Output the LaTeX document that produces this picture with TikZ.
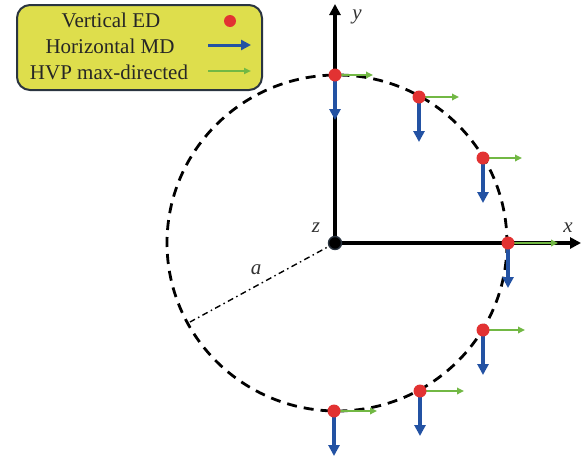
\documentclass[tikz,border=0pt]{standalone}
\usepackage{fontspec}
\setmainfont{Liberation Serif}
\usetikzlibrary{arrows.meta,calc}
\definecolor{edred}{HTML}{E23232}
\definecolor{mdblue}{HTML}{2352A3}
\definecolor{hvpgreen}{HTML}{72B844}
\definecolor{legfill}{HTML}{DEDE4C}
\definecolor{legdraw}{HTML}{2A3440}
\tikzset{
  dotnode/.style={circle,fill=edred,inner sep=0pt,minimum size=13pt},
  mdarrow/.style={mdblue,line width=3.4pt,-{Triangle[width=11pt,length=11pt]}},
  hvparrow/.style={hvpgreen,line width=1.7pt,-{Triangle[width=6.5pt,length=7pt]}},
  axisline/.style={black,line width=3.4pt},
  lbl/.style={font=\fontsize{21}{24}\selectfont\itshape,inner sep=0pt,text=black!80},
  legtext/.style={font=\fontsize{21}{24}\selectfont,inner sep=0pt,text=black!85}
}
\begin{document}
\begin{tikzpicture}[x=1pt,y=-1pt]
\useasboundingbox (0,0) rectangle (582,461);
% legend
\node[draw=legdraw,line width=2pt,fill=legfill,rounded corners=13pt,minimum width=245pt,minimum height=85pt,inner sep=0pt] (legend) at (139.5,47.5) {};
\node[legtext] (t1) at (111,20) {Vertical ED};
\node[legtext] (t2) at (110,46) {Horizontal MD};
\node[legtext] (t3) at (109,72) {HVP max-directed};
\node[dotnode,minimum size=12pt] (ld) at (230,21) {};
\coordinate (lb1) at (208,45);
\coordinate (lb2) at (251,45);
\coordinate (lg1) at (208,71);
\coordinate (lg2) at (251,71);
\draw[mdblue,line width=3pt,-{Triangle[width=10pt,length=10pt]}] (lb1) -- (lb2);
\draw[hvpgreen,line width=1.8pt,-{Triangle[width=6pt,length=7pt]}] (lg1) -- (lg2);
% axes
\coordinate (O) at (335,243);
\coordinate (C) at (337,243);
\coordinate (yend) at (335,4);
\coordinate (xend) at (581,243);
\draw[axisline,-{Triangle[width=11pt,length=11pt]}] (O) -- (yend);
\draw[axisline,-{Triangle[width=11pt,length=11pt]}] (O) -- (xend);
\node[lbl] (ly) at (357,17) {y};
\node[lbl] (lx) at (568,228) {x};
\node[lbl] (lz) at (316,228) {z};
% circle
\draw[black,line width=2.8pt,dash pattern=on 10pt off 7pt] (C) ellipse[x radius=170,y radius=168];
% radius
\coordinate (rim) at (190,322);
\draw[black,line width=1.4pt,dash pattern=on 6pt off 3.5pt on 1.5pt off 3.5pt] (O) -- (rim);
\node[lbl] (la) at (256,270) {a};
% origin
\node[circle,fill=black,draw=legdraw,line width=1.4pt,inner sep=0pt,minimum size=13pt] (orig) at (O) {};
% points
\foreach \i/\px/\py/\gl in {1/335/75/38,2/419/97/40,3/483/158/39,4/508/243/50,5/483/330/42,6/420/391/44,7/334/411/43}{
  \coordinate (p\i) at (\px,\py);
  \coordinate (g\i) at ($(p\i)+(\gl,0)$);
  \coordinate (b\i) at ($(p\i)+(0,45)$);
  \draw[hvparrow] (p\i) -- (g\i);
  \draw[mdarrow] (p\i) -- (b\i);
  \node[dotnode] (d\i) at (p\i) {};
}
\end{tikzpicture}
\end{document}
